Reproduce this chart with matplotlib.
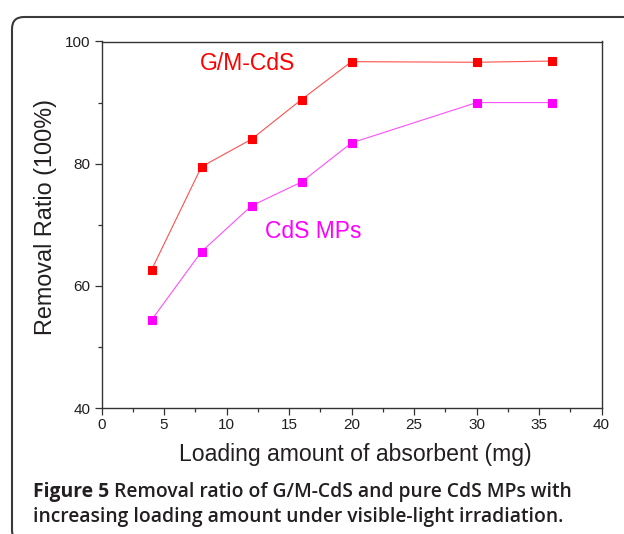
import matplotlib
matplotlib.use("Agg")
import matplotlib.pyplot as plt
import matplotlib.patches as mpatches
from matplotlib.transforms import IdentityTransform
from matplotlib.ticker import MultipleLocator

# ── data ─────────────────────────────────────────────────────────────────────
loading_mg = [4, 8, 12, 16, 20, 30, 36]
gm_cds = [62.6, 79.5, 84.0, 90.5, 96.7, 96.6, 96.8]
cds_mps = [54.4, 65.6, 73.1, 77.0, 83.4, 90.0, 90.0]

x_ticks = [0, 5, 10, 15, 20, 25, 30, 35, 40]
y_ticks = [40, 60, 80, 100]

W, H = 624, 534
TXT = "#231f20"

plt.rcParams["font.family"] = ["Liberation Sans", "DejaVu Sans"]

fig = plt.figure(figsize=(W / 100, H / 100), dpi=100)
fig.patch.set_facecolor("white")

# rounded frame (pixel coords, origin bottom-left; runs off right/bottom edge)
frame = mpatches.FancyBboxPatch(
    (12, -8), 700, H - 17 + 8,
    boxstyle="round,pad=0,rounding_size=12",
    facecolor="none", edgecolor="#3a3a3a", linewidth=1.5,
    transform=IdentityTransform(), zorder=0,
)
fig.patches.append(frame)

ax = fig.add_axes([101.5 / W, (H - 408) / H, 500 / W, 366.5 / H])

ax.plot(loading_mg, gm_cds, color="#ff5050", lw=0.8,
        marker="s", ms=5.6, mfc="#ff0000", mec="#ff0000", mew=0.8)
ax.plot(loading_mg, cds_mps, color="#ff50ff", lw=0.8,
        marker="s", ms=5.6, mfc="#ff00ff", mec="#ff00ff", mew=0.8)

ax.text(11.7, 96.4, "G/M-CdS", color="#ff0000", fontsize=16.5,
        ha="center", va="center")
ax.text(16.96, 68.9, "CdS MPs", color="#ff00ff", fontsize=16.5,
        ha="center", va="center")

ax.set_xlim(0, 40)
ax.set_ylim(40, 100)
ax.set_xticks(x_ticks)
ax.set_yticks(y_ticks)
ax.xaxis.set_minor_locator(MultipleLocator(2.5))
ax.yaxis.set_minor_locator(MultipleLocator(10))
ax.tick_params(which="both", width=0.9, colors="#333333",
               labelcolor=TXT, labelsize=11, direction="out")
ax.tick_params(axis="x", which="major", length=5, pad=2.5)
ax.tick_params(axis="x", which="minor", length=3)
ax.tick_params(axis="y", which="major", length=5, pad=3)
ax.tick_params(axis="y", which="minor", length=3)
for spine in ax.spines.values():
    spine.set_linewidth(1.0)
    spine.set_color("#333333")

fig.text(355 / W, 1 - 454 / H, "Loading amount of absorbent (mg)",
         fontsize=16.6, ha="center", va="center", color=TXT)
fig.text(46 / W, 1 - 217.5 / H, "Removal Ratio (100%)", rotation=90,
         fontsize=16.8, ha="center", va="center", color=TXT)

# caption
cap_kw = dict(fontsize=13.9, family="Open Sans", ha="left",
              va="baseline", color=TXT)
t_fig = fig.text(33 / W, 1 - 497 / H, "Figure 5 ", fontweight="bold", **cap_kw)
renderer = fig.canvas.get_renderer()
x_next = t_fig.get_window_extent(renderer).x1
fig.text(x_next / W, 1 - 497 / H,
         "Removal ratio of G/M-CdS and pure CdS MPs with",
         fontweight="semibold", **cap_kw)
fig.text(33 / W, 1 - 522 / H,
         "increasing loading amount under visible-light irradiation.",
         fontweight="semibold", **cap_kw)

fig.savefig("out.png", dpi=100)
